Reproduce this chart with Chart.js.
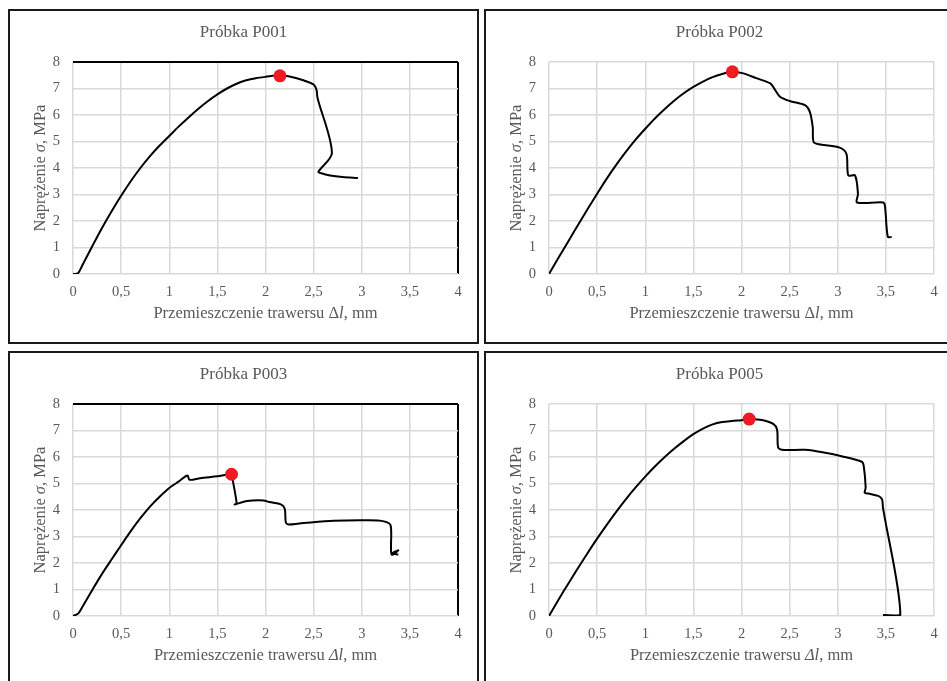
<!DOCTYPE html>
<html>
<head>
<meta charset="utf-8">
<script src="https://cdn.jsdelivr.net/npm/chart.js@4/dist/chart.umd.min.js"></script>
<style>
  body { margin: 0; background: #fff; width: 947px; height: 681px; overflow: hidden; position: relative; }
  .panel { position: absolute; width: 467px; height: 331px; border: 2px solid #1a1a1a; background: #fff; }
  .panel canvas { display: block; }
</style>
</head>
<body>
<div class="panel" style="left:8px; top:9px;"><canvas id="c1" width="467" height="331"></canvas></div>
<div class="panel" style="left:484px; top:9px;"><canvas id="c2" width="467" height="331"></canvas></div>
<div class="panel" style="left:8px; top:351px;"><canvas id="c3" width="467" height="331"></canvas></div>
<div class="panel" style="left:484px; top:351px;"><canvas id="c4" width="467" height="331"></canvas></div>
<script>
// Próbka P001
var p001X = [0, 0.05, 0.1, 0.2, 0.3, 0.4, 0.5, 0.6, 0.7, 0.8, 0.9, 1.0, 1.1, 1.2, 1.3, 1.4, 1.5, 1.6, 1.7, 1.8, 1.9, 2.0, 2.15, 2.25, 2.4, 2.5, 2.53, 2.54, 2.69, 2.55, 2.58, 2.67, 2.8, 2.96];
var p001Y = [0, 0.02, 0.35, 1.05, 1.73, 2.36, 2.95, 3.5, 4.0, 4.45, 4.85, 5.21, 5.57, 5.91, 6.23, 6.52, 6.78, 7.0, 7.18, 7.31, 7.39, 7.44, 7.5, 7.45, 7.3, 7.15, 6.95, 6.65, 4.57, 3.86, 3.8, 3.72, 3.66, 3.62];
var p001Peak = [2.15, 7.48];

// Próbka P002
var p002X = [0, 0.1, 0.2, 0.3, 0.4, 0.5, 0.6, 0.7, 0.8, 0.9, 1.0, 1.1, 1.2, 1.3, 1.4, 1.5, 1.6, 1.7, 1.8, 1.9, 2.02, 2.16, 2.3, 2.35, 2.4, 2.5, 2.66, 2.71, 2.74, 2.75, 2.82, 3.02, 3.09, 3.11, 3.18, 3.21, 3.2, 3.47, 3.49, 3.52, 3.56];
var p002Y = [0, 0.62, 1.23, 1.84, 2.44, 3.03, 3.6, 4.13, 4.62, 5.07, 5.48, 5.87, 6.22, 6.54, 6.82, 7.06, 7.26, 7.43, 7.55, 7.63, 7.57, 7.38, 7.19, 6.94, 6.69, 6.53, 6.37, 6.12, 5.55, 4.98, 4.89, 4.77, 4.54, 3.72, 3.72, 3.02, 2.7, 2.7, 2.58, 1.4, 1.4];
var p002Peak = [1.905, 7.63];

// Próbka P003
var p003X = [0, 0.056, 0.1, 0.2, 0.3, 0.4, 0.5, 0.6, 0.7, 0.8, 0.9, 1.0, 1.1, 1.19, 1.21, 1.32, 1.5, 1.647, 1.66, 1.70, 1.68, 1.81, 1.98, 2.04, 2.16, 2.20, 2.21, 2.23, 2.35, 2.71, 3.06, 3.23, 3.30, 3.31, 3.38, 3.32, 3.38];
var p003Y = [0, 0.1, 0.36, 0.98, 1.58, 2.13, 2.67, 3.2, 3.69, 4.13, 4.5, 4.83, 5.08, 5.3, 5.14, 5.2, 5.27, 5.34, 5.12, 4.24, 4.21, 4.34, 4.36, 4.3, 4.21, 4.05, 3.55, 3.46, 3.49, 3.59, 3.61, 3.57, 3.42, 2.32, 2.48, 2.37, 2.32];
var p003Peak = [1.647, 5.35];

// Próbka P005
var p005X = [0, 0.1, 0.2, 0.3, 0.4, 0.5, 0.6, 0.7, 0.8, 0.9, 1.0, 1.1, 1.2, 1.3, 1.4, 1.5, 1.6, 1.7, 1.8, 1.9, 2.0, 2.08, 2.21, 2.33, 2.37, 2.38, 2.42, 2.66, 2.87, 3.04, 3.25, 3.27, 3.29, 3.28, 3.32, 3.42, 3.46, 3.47, 3.65, 3.47];
var p005Y = [0, 0.62, 1.22, 1.8, 2.37, 2.92, 3.44, 3.94, 4.41, 4.85, 5.26, 5.64, 5.99, 6.31, 6.6, 6.86, 7.07, 7.23, 7.32, 7.36, 7.39, 7.42, 7.4, 7.25, 7.03, 6.37, 6.27, 6.27, 6.16, 6.03, 5.82, 5.66, 4.84, 4.65, 4.62, 4.53, 4.40, 4.09, 0.04, 0.04];
var p005Peak = [2.08, 7.43];

var xTicks = [0, 0.5, 1, 1.5, 2, 2.5, 3, 3.5, 4];
var yTicks = [0, 1, 2, 3, 4, 5, 6, 7, 8];

var textColor = '#595959';
var gridColor = '#d9d9d9';
var serif = '"Liberation Serif", "Times New Roman", serif';

function toPoints(xs, ys) {
  var pts = [];
  for (var i = 0; i < xs.length; i++) pts.push({ x: xs[i], y: ys[i] });
  return pts;
}

// draws a line of text made of plain / italic pieces, centered on 0,0
function drawPieces(ctx, pieces, size) {
  var total = 0;
  pieces.forEach(function (p) {
    ctx.font = (p.i ? 'italic ' : '') + size + 'px ' + serif;
    p.w = ctx.measureText(p.t).width;
    total += p.w;
  });
  var x = -total / 2;
  pieces.forEach(function (p) {
    ctx.font = (p.i ? 'italic ' : '') + size + 'px ' + serif;
    ctx.fillText(p.t, x, 0);
    x += p.w;
  });
}

var titlesPlugin = {
  id: 'titles',
  afterDraw: function (chart) {
    var o = chart.options.plugins.titles;
    var ctx = chart.ctx;
    var area = chart.chartArea;
    ctx.save();
    ctx.fillStyle = textColor;
    ctx.textAlign = 'left';
    ctx.textBaseline = 'middle';
    // chart title, centered on the whole panel
    ctx.save();
    ctx.translate(chart.width / 2, 22);
    drawPieces(ctx, [{ t: o.title }], 17);
    ctx.restore();
    // x axis title
    ctx.save();
    ctx.translate((area.left + area.right) / 2, 303);
    drawPieces(ctx, [{ t: 'Przemieszczenie trawersu ' }, { t: 'Δ', i: o.italicDelta }, { t: 'l', i: true }, { t: ', mm' }], 16.5);
    ctx.restore();
    // y axis title
    ctx.save();
    ctx.translate(31, (area.top + area.bottom) / 2);
    ctx.rotate(-Math.PI / 2);
    drawPieces(ctx, [{ t: 'Naprężenie ' }, { t: 'σ', i: true }, { t: ', MPa' }], 16.5);
    ctx.restore();
    ctx.restore();
  }
};

function makeChart(id, title, xs, ys, peak, blackFrame, italicDelta) {
  new Chart(document.getElementById(id), {
    type: 'scatter',
    data: {
      datasets: [
        {
          data: [{ x: peak[0], y: peak[1] }],
          pointRadius: 6.5,
          pointBackgroundColor: '#ed1c24',
          pointBorderWidth: 0,
          showLine: false
        },
        {
          data: toPoints(xs, ys),
          showLine: true,
          borderColor: '#000',
          borderWidth: 2,
          pointRadius: 0,
          tension: 0.3
        }
      ]
    },
    options: {
      responsive: false,
      animation: false,
      layout: { padding: { top: 51, right: 19, bottom: 0, left: 0 } },
      plugins: {
        legend: { display: false },
        tooltip: { enabled: false },
        titles: { title: title, italicDelta: italicDelta }
      },
      scales: {
        x: {
          type: 'linear',
          min: 0,
          max: 4,
          afterBuildTicks: function (s) { s.ticks = xTicks.map(function (v) { return { value: v }; }); },
          afterFit: function (s) { s.height = 68; },
          ticks: {
            color: textColor,
            font: { family: serif, size: 14.5 },
            padding: 9,
            maxRotation: 0,
            callback: function (v) { return String(v).replace('.', ','); }
          },
          grid: {
            drawTicks: false,
            color: function (c) { return blackFrame && c.tick && c.tick.value === 4 ? '#000' : gridColor; },
            lineWidth: function (c) { return blackFrame && c.tick && c.tick.value === 4 ? 2 : 1.5; }
          },
          border: { display: false }
        },
        y: {
          type: 'linear',
          min: 0,
          max: 8,
          afterBuildTicks: function (s) { s.ticks = yTicks.map(function (v) { return { value: v }; }); },
          afterFit: function (s) { s.width = 63; },
          ticks: {
            color: textColor,
            font: { family: serif, size: 14.5 },
            padding: 13
          },
          grid: {
            drawTicks: false,
            color: function (c) { return blackFrame && c.tick && c.tick.value === 8 ? '#000' : gridColor; },
            lineWidth: function (c) { return blackFrame && c.tick && c.tick.value === 8 ? 2 : 1.5; }
          },
          border: { display: false }
        }
      }
    },
    plugins: [titlesPlugin]
  });
}

makeChart('c1', 'Próbka P001', p001X, p001Y, p001Peak, true, false);
makeChart('c2', 'Próbka P002', p002X, p002Y, p002Peak, false, false);
makeChart('c3', 'Próbka P003', p003X, p003Y, p003Peak, true, true);
makeChart('c4', 'Próbka P005', p005X, p005Y, p005Peak, false, true);
</script>
</body>
</html>
